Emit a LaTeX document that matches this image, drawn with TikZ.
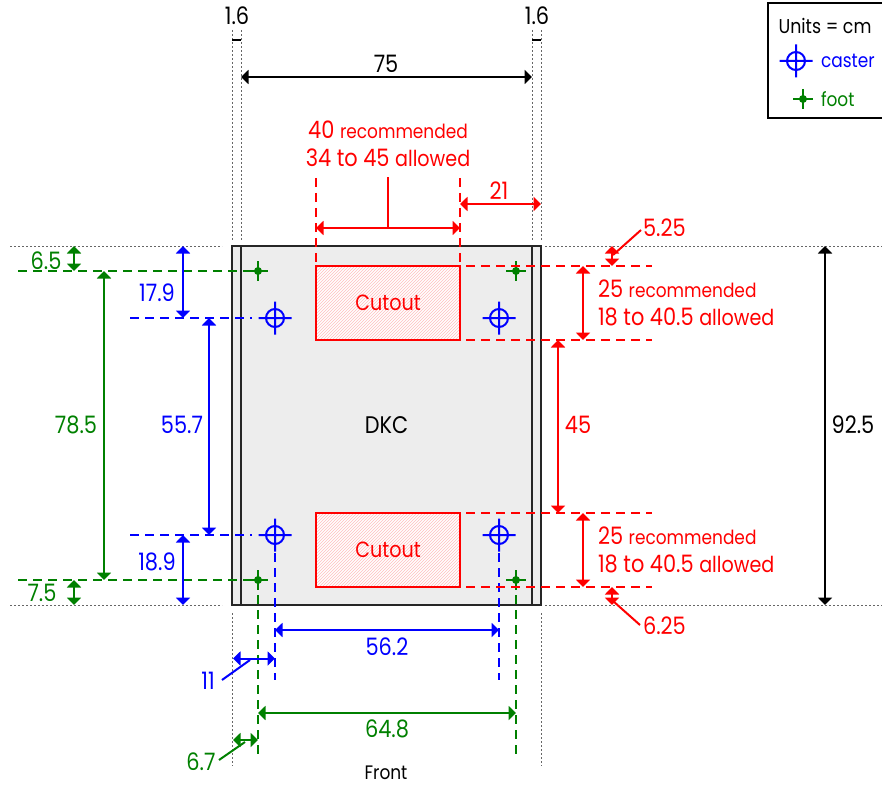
\documentclass[tikz,border=0pt]{standalone}
\usepackage{fontspec}
\setmainfont{Poppins}[FakeStretch=0.87]
\usepackage{xcolor}
\usepackage{tikz}
\usetikzlibrary{arrows.meta,patterns}
\definecolor{dimred}{RGB}{255,0,0}
\definecolor{dimblue}{RGB}{0,0,255}
\definecolor{dimgreen}{RGB}{0,128,0}
\newcommand{\smalltxt}[1]{{\fontsize{19.5}{28}\selectfont #1}}
\newcommand{\midtxt}[1]{{\fontsize{22}{28}\selectfont #1}}
\tikzstyle{label} = [inner sep=0pt, outer sep=0pt, font=\fontsize{24}{28}\selectfont, align=left]
\tikzstyle{redlabel} = [label, text=dimred]
\tikzstyle{bluelabel} = [label, text=dimblue]
\tikzstyle{greenlabel} = [label, text=dimgreen]
\tikzstyle{body} = [rectangle, draw=black!85, line width=2.8pt, fill=black!7, minimum width=309pt, minimum height=359pt, inner sep=0pt, outer sep=0pt]
\tikzstyle{cutout} = [rectangle, draw=dimred, line width=1.8pt, preaction={fill=white}, pattern=north east lines, pattern color=dimred!25, minimum width=144pt, minimum height=74pt, inner sep=0pt, outer sep=0pt]
\tikzstyle{arrow} = [line width=2pt, {Triangle[length=7.5pt,width=14pt]}-{Triangle[length=7.5pt,width=14pt]}]
\tikzstyle{blackarrow} = [arrow, draw=black]
\tikzstyle{redarrow} = [arrow, draw=dimred]
\tikzstyle{bluearrow} = [arrow, draw=dimblue]
\tikzstyle{greenarrow} = [arrow, draw=dimgreen]
\tikzstyle{dashline} = [line width=2pt, dash pattern=on 9pt off 6pt]
\tikzstyle{guide} = [line width=0.8pt, draw=black!60, dash pattern=on 2pt off 2pt]
\tikzset{
  caster/.pic={\draw [dimblue, line width=2pt] (0,0) circle (9pt) (-16.5,0) -- (16.5,0) (0,-16.5) -- (0,16.5);},
  foot/.pic={\draw [dimgreen, line width=2pt] (-10,0) -- (10,0) (0,-10) -- (0,10); \fill [dimgreen] (0,0) circle (4pt);}
}
\begin{document}
\begin{tikzpicture}[x=1pt, y=-1pt]
\useasboundingbox (0,0) rectangle (882,786);
\node (dkc) [body, label] at (386.5,425.5) {DKC};
\draw [line width=2.8pt, draw=black!85] (241,246) coordinate (innerLT) -- (241,605) coordinate (innerLB);
\draw [line width=2.8pt, draw=black!85] (532,246) coordinate (innerRT) -- (532,605) coordinate (innerRB);
\node (cutT) [cutout, redlabel, font=\fontsize{22}{28}\selectfont] at (388,303) {Cutout};
\node (cutB) [cutout, redlabel, font=\fontsize{22}{28}\selectfont] at (388,550) {Cutout};

%---------------------------------POINTS
\coordinate (footTL) at (258,271);
\coordinate (footTR) at (516,271);
\coordinate (footBL) at (258,580);
\coordinate (footBR) at (516,580);
\coordinate (castTL) at (275,318);
\coordinate (castTR) at (499,318);
\coordinate (castBL) at (275,535);
\coordinate (castBR) at (499,535);
\foreach \p in {footTL,footTR,footBL,footBR} \path (\p) pic {foot};
\foreach \p in {castTL,castTR,castBL,castBR} \path (\p) pic {caster};

%---------------------------------GUIDES
\draw [guide] (232,30) coordinate (g1a) -- (232,240) coordinate (g1b);
\draw [guide] (241,30) coordinate (g2a) -- (241,240) coordinate (g2b);
\draw [guide] (532,30) coordinate (g3a) -- (532,240) coordinate (g3b);
\draw [guide] (541,30) coordinate (g4a) -- (541,240) coordinate (g4b);
\draw [guide] (232,613) coordinate (g5a) -- (232,766) coordinate (g5b);
\draw [guide] (541,613) coordinate (g6a) -- (541,766) coordinate (g6b);
\draw [guide] (10,246) coordinate (g7a) -- (222,246) coordinate (g7b);
\draw [guide] (545,246) coordinate (g8a) -- (882,246) coordinate (g8b);
\draw [guide] (10,605) coordinate (g9a) -- (222,605) coordinate (g9b);
\draw [guide] (545,605) coordinate (g10a) -- (882,605) coordinate (g10b);

%---------------------------------DASHES
\draw [dashline, dimgreen] (18,271) coordinate (gl1) -- (footTL);
\draw [dashline, dimgreen] (18,580) coordinate (gl2) -- (footBL);
\draw [dashline, dimgreen] (footBL) -- (258,757) coordinate (gl3);
\draw [dashline, dimgreen] (footBR) -- (516,757) coordinate (gl4);
\draw [dashline, dimblue] (130,318) coordinate (bl1) -- (252,318) coordinate (bl1e);
\draw [dashline, dimblue] (130,535) coordinate (bl2) -- (252,535) coordinate (bl2e);
\draw [dashline, dimblue] (275,553) coordinate (bl3) -- (275,680) coordinate (bl3e);
\draw [dashline, dimblue] (499,553) coordinate (bl4) -- (499,680) coordinate (bl4e);
\draw [dashline, dimred] (316,178) coordinate (rl1) -- (316,266) coordinate (rl1e);
\draw [dashline, dimred] (460,178) coordinate (rl2) -- (460,266) coordinate (rl2e);
\draw [dashline, dimred] (466,266) coordinate (rl3) -- (652,266) coordinate (rl3e);
\draw [dashline, dimred] (466,340) coordinate (rl4) -- (652,340) coordinate (rl4e);
\draw [dashline, dimred] (466,513) coordinate (rl5) -- (652,513) coordinate (rl5e);
\draw [dashline, dimred] (466,587) coordinate (rl6) -- (652,587) coordinate (rl6e);

%---------------------------------ARROWS
\draw [blackarrow] (241,77) coordinate (w1) -- (532,77) coordinate (w2);
\draw [line width=1.4pt] (232,40) coordinate (t1) -- (241,40) coordinate (t2);
\draw [line width=1.4pt] (532,40) coordinate (t3) -- (541,40) coordinate (t4);
\draw [blackarrow] (825,246) coordinate (h1) -- (825,605) coordinate (h2);
\draw [redarrow] (316,228) coordinate (a1) -- (460,228) coordinate (a2);
\draw [line width=2pt, dimred] (388,228) coordinate (a3) -- (388,177) coordinate (a4);
\draw [redarrow] (460,204) coordinate (a5) -- (541,204) coordinate (a6);
\draw [redarrow] (583,266) coordinate (a7) -- (583,340) coordinate (a8);
\draw [redarrow] (558,340) coordinate (a9) -- (558,513) coordinate (a10);
\draw [redarrow] (583,513) coordinate (a11) -- (583,587) coordinate (a12);
\draw [redarrow] (612,246) coordinate (a13) -- (612,266) coordinate (a14);
\draw [redarrow] (612,587) coordinate (a15) -- (612,605) coordinate (a16);
\draw [line width=2pt, dimred] (641,230) coordinate (a17) -- (613,255) coordinate (a18);
\draw [line width=2pt, dimred] (640,625) coordinate (a19) -- (613,601) coordinate (a20);
\draw [greenarrow] (74,246) coordinate (b1) -- (74,271) coordinate (b2);
\draw [greenarrow] (104,271) coordinate (b3) -- (104,580) coordinate (b4);
\draw [greenarrow] (74,580) coordinate (b5) -- (74,605) coordinate (b6);
\draw [greenarrow] (258,713) coordinate (b7) -- (516,713) coordinate (b8);
\draw [greenarrow] (233,740) coordinate (b9) -- (258,740) coordinate (b10);
\draw [line width=2pt, dimgreen] (219,760) coordinate (b11) -- (245,742) coordinate (b12);
\draw [bluearrow] (183,246) coordinate (c1) -- (183,318) coordinate (c2);
\draw [bluearrow] (209,318) coordinate (c3) -- (209,535) coordinate (c4);
\draw [bluearrow] (183,535) coordinate (c5) -- (183,605) coordinate (c6);
\draw [bluearrow] (275,630) coordinate (c7) -- (499,630) coordinate (c8);
\draw [bluearrow] (233,658.5) coordinate (c9) -- (275,658.5) coordinate (c10);
\draw [line width=2pt, dimblue] (222,680) coordinate (c11) -- (250,660) coordinate (c12);

%---------------------------------LABELS
\node (lab16a) [label] at (237,16) {1.6};
\node (lab16b) [label] at (537,16) {1.6};
\node (lab75) [label] at (386,64) {75};
\node (lab925) [label] at (853,425) {92.5};
\node (labfront) [label, font=\fontsize{19.5}{20}\selectfont] at (386,773) {Front};
\node (labrec) [redlabel, align=center] at (388,144) {40 \smalltxt{recommended}\\34 to 45 \midtxt{allowed}};
\node (lab21) [redlabel] at (499,191) {21};
\node (lab45) [redlabel] at (578,425) {45};
\node (lab525) [redlabel, anchor=west] at (643,228) {5.25};
\node (lab625) [redlabel, anchor=west] at (643,626) {6.25};
\node (recT) [redlabel, anchor=west] at (598,303) {25 \smalltxt{recommended}\\18 to 40.5 \midtxt{allowed}};
\node (recB) [redlabel, anchor=west] at (598,550) {25 \smalltxt{recommended}\\18 to 40.5 \midtxt{allowed}};
\node (lab65) [greenlabel] at (46,261) {6.5};
\node (lab785) [greenlabel] at (76,425) {78.5};
\node (lab75g) [greenlabel] at (42,593) {7.5};
\node (lab648) [greenlabel] at (387,729) {64.8};
\node (lab67) [greenlabel] at (201,762) {6.7};
\node (lab179) [bluelabel] at (157,293) {17.9};
\node (lab557) [bluelabel] at (182,425) {55.7};
\node (lab189) [bluelabel] at (157,562) {18.9};
\node (lab562) [bluelabel] at (387,647) {56.2};
\node (lab11) [bluelabel] at (208,681) {11};

%---------------------------------LEGEND
\node (legend) [rectangle, draw=black, line width=2pt, minimum width=117pt, minimum height=115pt, inner sep=0pt, outer sep=0pt] at (826.5,60.5) {};
\node (units) [label, font=\fontsize{20}{20}\selectfont] at (825,26) {Units = cm};
\path (796,61) coordinate (legcast) pic {caster};
\path (803,99) coordinate (legfoot) pic {foot};
\node (legcaster) [bluelabel, anchor=west, font=\fontsize{19.5}{20}\selectfont] at (821,61) {caster};
\node (legfootlab) [greenlabel, anchor=west, font=\fontsize{19.5}{20}\selectfont] at (821,99) {foot};

\end{tikzpicture}
\end{document}
